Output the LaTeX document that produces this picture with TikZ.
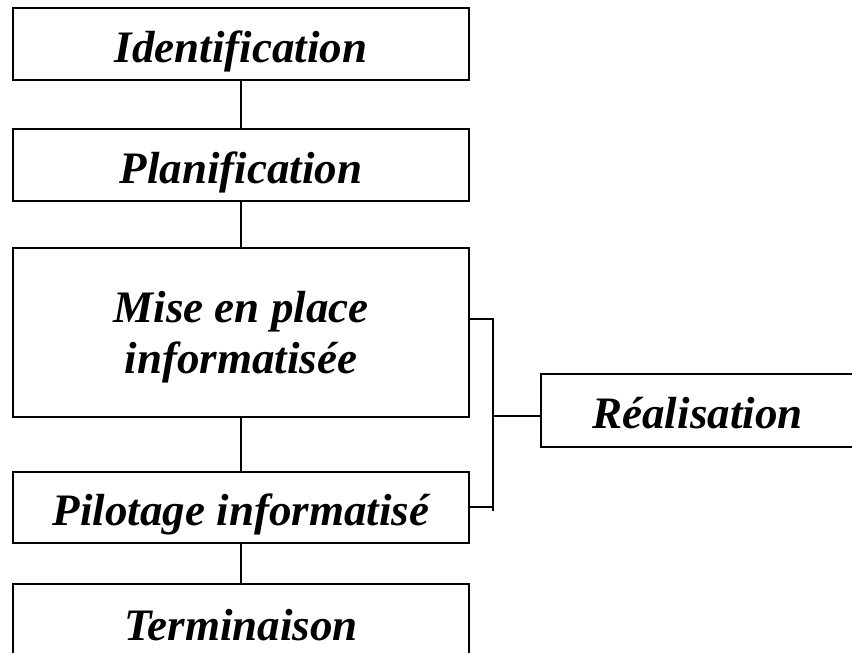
\documentclass[tikz,border=0pt]{standalone}
\usepackage{fontspec}
\setmainfont{Liberation Serif}
\begin{document}
\begin{tikzpicture}[x=1pt,y=-1pt,
  every node/.style={font=\fontsize{45}{51}\selectfont\bfseries\itshape},
  box/.style={draw, line width=1.6pt, rectangle, minimum width=456pt, inner sep=0pt, anchor=center, text height=36pt, text depth=0pt},
  link/.style={line width=1.6pt}]
\useasboundingbox (0,0) rectangle (852,653);
\node[box, minimum height=72pt] (id) at (241,44) {Identification};
\node[box, minimum height=72pt] (plan) at (241,165) {Planification};
\node[box, minimum height=169pt, align=center, text height=87pt, text depth=6pt] (mise) at (241,332.5) {Mise en place\\informatisée};
\node[box, minimum height=71pt] (pilot) at (241,507.5) {Pilotage informatisé};
\node[box, minimum height=76pt] (term) at (241,622) {Terminaison};
\node[box, minimum width=313pt, minimum height=73pt] (real) at (697.5,410.5) {Réalisation};
\coordinate (bt) at (493,319);
\coordinate (bb) at (493,511);
\coordinate (bm) at (493,416);
\coordinate (ps) at (493,507);
\draw[link] (id.south) -- (plan.north);
\draw[link] (plan.south) -- (mise.north);
\draw[link] (mise.south) -- (pilot.north);
\draw[link] (pilot.south) -- (term.north);
\draw[link] (mise.east |- bt) -- (bt) -- (bb);
\draw[link] (pilot.east |- ps) -- (ps);
\draw[link] (bm) -- (real.west |- bm);
\end{tikzpicture}
\end{document}
